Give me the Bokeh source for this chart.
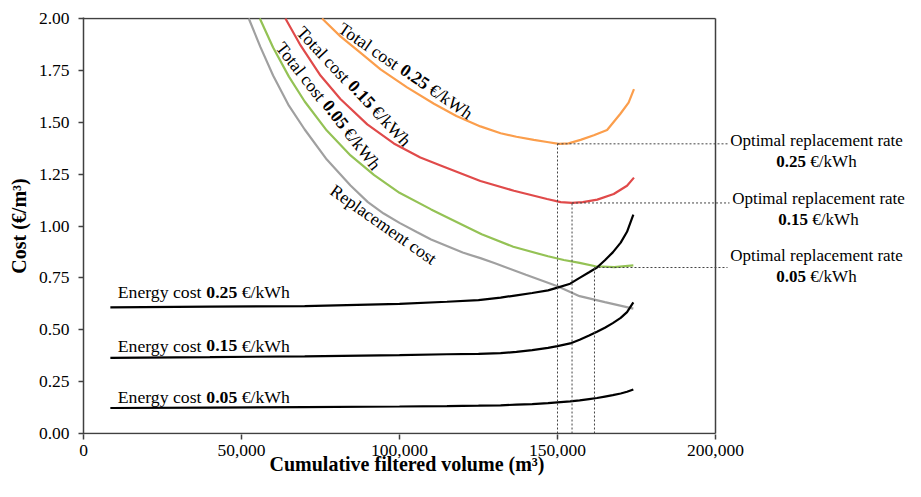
import math
from bokeh.plotting import figure
from bokeh.models import Label, Range1d, FixedTicker, NumeralTickFormatter
from bokeh.embed import file_html
from bokeh.resources import INLINE

# ---------------- data ----------------
energy_x = [8500, 40000, 70000, 100000, 115000, 125000, 132000, 137000, 142000, 147000,
            150000, 154000, 157000, 160000, 162500, 165000, 167500, 170000, 172000, 174000]
energy_005 = [0.123, 0.125, 0.127, 0.130, 0.132, 0.134, 0.136, 0.139, 0.142, 0.146,
              0.150, 0.155, 0.160, 0.166, 0.171, 0.178, 0.185, 0.193, 0.201, 0.212]
energy_015 = [0.364, 0.368, 0.372, 0.378, 0.382, 0.384, 0.387, 0.393, 0.402, 0.413,
              0.421, 0.434, 0.452, 0.472, 0.490, 0.510, 0.532, 0.557, 0.585, 0.632]
energy_025 = [0.608, 0.611, 0.614, 0.625, 0.635, 0.643, 0.655, 0.666, 0.677, 0.690,
              0.703, 0.722, 0.750, 0.777, 0.800, 0.835, 0.873, 0.920, 0.972, 1.055]

repl_x = [52300, 56000, 60000, 65000, 70000, 77000, 84500, 90000, 95000, 100000,
          105600, 110000, 120000, 125600, 130000, 140000, 150000, 157000, 165000, 174000]
repl_y = [2.00, 1.862, 1.725, 1.580, 1.465, 1.320, 1.195, 1.115, 1.060, 1.015,
          0.970, 0.935, 0.872, 0.845, 0.822, 0.765, 0.710, 0.662, 0.633, 0.602]

tot005_x = [55800, 60000, 65000, 70000, 77000, 84500, 92000, 100000, 110000, 120000,
            126000, 136000, 147000, 152000, 157000, 162000, 168000, 174000]
tot005_y = [2.00, 1.860, 1.720, 1.600, 1.460, 1.340, 1.245, 1.160, 1.080, 1.005,
            0.960, 0.900, 0.854, 0.836, 0.822, 0.806, 0.802, 0.810]

tot015_x = [63900, 68700, 75000, 81300, 89800, 98200, 106600, 113000, 125600, 136200,
            146700, 151000, 154600, 158000, 162600, 167800, 172000, 174200]
tot015_y = [2.00, 1.870, 1.725, 1.612, 1.490, 1.398, 1.330, 1.292, 1.217, 1.170,
            1.130, 1.115, 1.111, 1.115, 1.127, 1.154, 1.194, 1.233]

tot025_x = [75500, 81300, 87700, 94000, 102400, 110900, 118000, 125600, 132000, 137000,
            142500, 146700, 150400, 153500, 157300, 161500, 165700, 169900, 172500, 174200]
tot025_y = [2.00, 1.914, 1.834, 1.755, 1.668, 1.589, 1.530, 1.480, 1.447, 1.430,
            1.415, 1.405, 1.396, 1.398, 1.415, 1.437, 1.463, 1.541, 1.595, 1.660]

rates = ["0.05", "0.15", "0.25"]
opt_x = [161700, 154600, 150000]
opt_y = [0.800, 1.111, 1.396]

x_ticks = [0, 50000, 100000, 150000, 200000]
y_ticks = [0.0, 0.25, 0.5, 0.75, 1.0, 1.25, 1.5, 1.75, 2.0]

# ---------------- layout ----------------
FONT = "Liberation Serif"
FS = 17.7
W, H = 905, 481
ML = 83                       # frame left edge (x = 0)
FT, FB = 17, 434              # frame top / bottom edges on the canvas
Y2_PX, Y0_PX = 18, 433        # where y = 2.00 and y = 0.00 are drawn
PX_X = 632 / x_ticks[-1]
PX_Y = (Y0_PX - Y2_PX) / y_ticks[-1]

# reference-picture pixel -> data (for placing the annotations)
REF_PX_Y = 421.7 / y_ticks[-1]


def X(px):
    return (px - 83) / PX_X


def Y(py):
    return (441.7 - py) / REF_PX_Y


REG = {'T': 611, 'o': 500, 't': 278, 'a': 444, 'l': 278, ' ': 250, 'c': 444, 's': 389,
       'E': 611, 'n': 500, 'e': 444, 'r': 333, 'g': 500, 'y': 500, '€': 500, '/': 278,
       'k': 500, 'W': 944, 'h': 500, '0': 500, '1': 500, '2': 500, '5': 500, '.': 250}


def tw(s, size=FS):
    return sum(REG.get(c, 500) for c in s) / 1000 * size


p = figure(width=W, height=H, output_backend="svg", toolbar_location=None,
           x_range=Range1d(0, (W - ML) / PX_X),
           y_range=Range1d(-(FB - Y0_PX) / PX_Y, y_ticks[-1] + (Y2_PX - FT) / PX_Y),
           min_border_left=ML, min_border_right=0, min_border_top=FT,
           min_border_bottom=H - FB)
p.background_fill_color = "white"
p.border_fill_color = "white"
p.outline_line_color = None
p.xgrid.visible = False
p.ygrid.visible = False

AX = "#404040"
for ax in (p.xaxis, p.yaxis):
    ax.major_tick_in = 0
    ax.major_tick_out = 5
    ax.minor_tick_out = 0
    ax.minor_tick_in = 0
    ax.major_tick_line_color = AX
    ax.major_tick_line_width = 1.5
    ax.axis_line_color = AX
    ax.axis_line_width = 1.5
    ax.major_label_text_font = FONT
    ax.major_label_text_font_size = "17.5px"
    ax.major_label_text_color = "black"
    ax.axis_label_text_font = FONT
    ax.axis_label_text_font_size = "20px"
    ax.axis_label_text_font_style = "bold"
    ax.axis_label_text_color = "black"
p.xaxis.axis_line_color = None
p.xaxis.ticker = FixedTicker(ticks=x_ticks)
p.yaxis.ticker = FixedTicker(ticks=y_ticks)
p.xaxis.formatter = NumeralTickFormatter(format="0,0")
p.yaxis.formatter = NumeralTickFormatter(format="0.00")
p.xaxis.major_label_standoff = 5
p.yaxis.major_label_standoff = 9
p.yaxis.axis_label = "Cost (€/m³)"
p.yaxis.axis_label_standoff = 6
# x title: centred under the x = 0..200,000 box (the frame runs on to the right edge)
p.xaxis.axis_label = "Cumulative filtered volume (m³)" + "\u00a0" * 35
p.xaxis.axis_label_standoff = -6

# plot box (bottom, top, right)
x0, x1 = x_ticks[0], x_ticks[-1]
y0, y1 = y_ticks[0], y_ticks[-1]
p.segment(x0=[x0, x0, x1], y0=[y0, y1, y0], x1=[x1, x1, x1], y1=[y0, y1, y1],
          line_color=AX, line_width=1.5)

# curves
p.line(repl_x, repl_y, line_color="#A0A0A0", line_width=2.2)
p.line(tot005_x, tot005_y, line_color="#94C255", line_width=2.2)
p.line(tot015_x, tot015_y, line_color="#E04A4A", line_width=2.2)
p.line(tot025_x, tot025_y, line_color="#FB9E4C", line_width=2.2)
for ey in (energy_005, energy_015, energy_025):
    p.line(energy_x, ey, line_color="black", line_width=2.2)

# dashed optimum guides
ends = [X(727), X(729), X(727)]
p.segment(x0=opt_x, y0=[0] * 3, x1=opt_x, y1=opt_y, line_color="#444444",
          line_width=1, line_dash="2 2")
p.segment(x0=opt_x, y0=opt_y, x1=ends, y1=opt_y, line_color="#444444",
          line_width=1, line_dash="2 2")


def lab(px, py, text, bold=False, angle_deg=0.0, align="left", size=FS):
    """(px, py): point on the text baseline, in reference-picture pixels."""
    a = math.radians(angle_deg)
    up = 0.3375 * size                      # baseline -> middle of the text box
    mx, my = px + up * math.sin(a), py - up * math.cos(a)
    p.add_layout(Label(x=X(mx), y=Y(my), text=text, text_font=FONT,
                       text_font_size=f"{size}px",
                       text_font_style="bold" if bold else "normal",
                       text_color="black", angle=-a,
                       text_align=align, text_baseline="middle"))


def rich(px, py, phi, parts, size=FS):
    a = math.radians(phi)
    d = 0.0
    for text, bold in parts:
        if text.strip():
            lab(px + d * math.cos(a), py + d * math.sin(a), text, bold, phi, size=size)
        d += tw(text, size)


# energy labels
for r, base in zip(rates, [410.7, 358.3, 304.0]):
    rich(117.3, base, 0, [("Energy cost ", False), (r, True), (" ", False), ("€/kWh", False)])

# total cost labels (along curves)
tot_lab = {"0.05": (274.5, 50, 52), "0.15": (295, 35, 47), "0.25": (336.5, 33, 34.5)}
for r in rates:
    px, py, phi = tot_lab[r]
    rich(px, py, phi, [("Total cost ", False), (r, True), (" ", False), ("€/kWh", False)])

rich(328.3, 197.8, 35, [("Replacement cost", False)])

# optimal replacement labels (right margin)
RFS = 17
opt_lab = {"0.05": (816, 266.5, 288), "0.15": (818, 208.5, 230), "0.25": (816, 150, 171)}
for r in rates:
    cx, b1, b2 = opt_lab[r]
    lab(cx, b1, "Optimal replacement rate", align="center", size=RFS)
    half = (tw(r, RFS) + tw(" ", RFS) + tw("€/kWh", RFS)) / 2
    lab(cx - half, b2, r, bold=True, size=RFS)
    lab(cx + half, b2, "€/kWh", align="right", size=RFS)

open("out.html", "w").write(file_html(p, INLINE))
